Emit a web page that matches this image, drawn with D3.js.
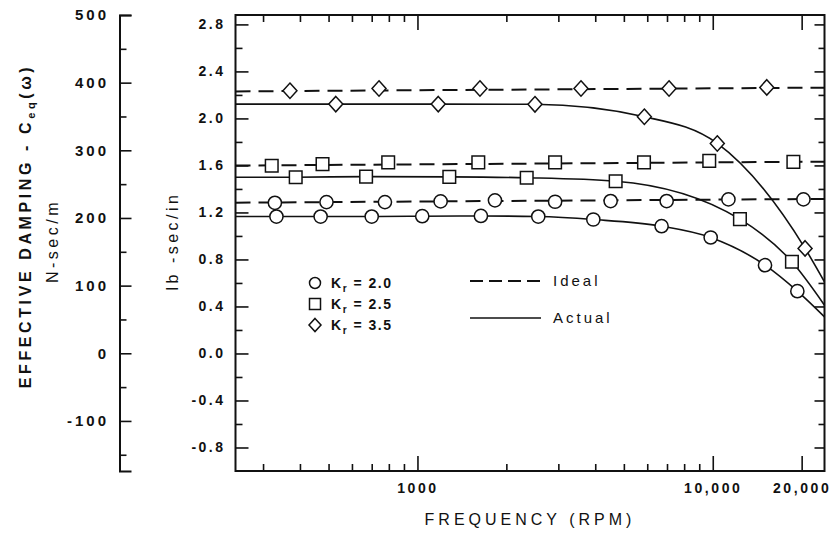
<!DOCTYPE html>
<meta charset="utf-8">
<style>
body { margin: 0; background: #fff; }
text { font-family: "Liberation Sans", Arial, sans-serif; fill: #111; }
.line { fill: none; stroke: #111; stroke-width: 1.6px; }
.ideal { stroke-dasharray: 15,8; stroke-width: 2px; }
.mark { fill: #fff; stroke: #111; stroke-width: 1.5px; }
</style>
<body>
<script src="https://d3js.org/d3.v7.min.js"></script>
<script>

// tick values and labels
var majorFreq = [1000, 10000, 20000];
var freqTickLabels = ["1000", "10,000", "20,000"];
var minorFreq = [300, 400, 500, 600, 700, 800, 900, 2000, 3000, 4000, 5000, 6000, 7000, 8000, 9000];
var lbTicks = [-0.8, -0.4, 0, 0.4, 0.8, 1.2, 1.6, 2.0, 2.4, 2.8];
var lbTickLabels = ["-0.8", "-0.4", "0.0", "0.4", "0.8", "1.2", "1.6", "2.0", "2.4", "2.8"];
var lbMinor = [-0.6, -0.2, 0.2, 0.6, 1.0, 1.4, 1.8, 2.2, 2.6];
var nTicks = [-100, 0, 100, 200, 300, 400, 500];
var nTickLabels = ["-100", "0", "100", "200", "300", "400", "500"];
var nMinor = [-150, -50, 50, 150, 250, 350, 450];

// frequency at left / right edge of the frame (line ends)
var edgeFreq = [242, 23900];

// Kr = 2.0 (circles), lb-sec/in
var circIdealFreq = [329, 492, 776, 1198, 1830, 2925, 4510, 6980, 11300, 20280];
var circIdealVal  = [1.282, 1.288, 1.288, 1.294, 1.303, 1.291, 1.297, 1.297, 1.311, 1.311];
var circIdealEnds = [1.283, 1.315];
var circActFreq = [333, 470, 700, 1038, 1640, 2565, 3940, 6710, 9840, 15030, 19340];
var circActVal  = [1.165, 1.165, 1.165, 1.168, 1.170, 1.165, 1.140, 1.083, 0.987, 0.751, 0.530];
var circActEnds = [1.165, 0.311];

// Kr = 2.5 (squares)
var sqIdealFreq = [321, 477, 796, 1607, 2925, 5850, 9730, 18750];
var sqIdealVal  = [1.597, 1.611, 1.626, 1.626, 1.626, 1.626, 1.639, 1.630];
var sqIdealEnds = [1.599, 1.632];
var sqActFreq = [387, 670, 1282, 2344, 4690, 12360, 18540];
var sqActVal  = [1.500, 1.505, 1.503, 1.495, 1.466, 1.143, 0.780];
var sqActEnds = [1.500, 0.411];

// Kr = 3.5 (diamonds)
var diaIdealFreq = [370, 741, 1628, 3579, 7112, 15240];
var diaIdealVal  = [2.235, 2.255, 2.255, 2.255, 2.255, 2.264];
var diaIdealEnds = [2.230, 2.262];
var diaActFreq = [529, 1176, 2500, 5866, 10360, 20540];
var diaActVal  = [2.122, 2.122, 2.120, 2.014, 1.787, 0.894];
var diaActEnds = [2.122, 0.609];

var krLabels = ["2.0", "2.5", "3.5"];

// marker shapes (size = half extent)
var symCircle = { draw: function(c, s) { c.moveTo(s, 0); c.arc(0, 0, s, 0, 2 * Math.PI); } };
var symSquare = { draw: function(c, s) { c.rect(-s, -s, 2 * s, 2 * s); } };
var symDiamond = { draw: function(c, s) {
  c.moveTo(0, -s * 1.1); c.lineTo(s, 0); c.lineTo(0, s * 1.1); c.lineTo(-s, 0); c.closePath(); } };

var series = [
  {sym: symCircle, size: 6.6, legSize: 5.5, iF: circIdealFreq, iV: circIdealVal, iE: circIdealEnds, aF: circActFreq, aV: circActVal, aE: circActEnds},
  {sym: symSquare, size: 6.3, legSize: 5.5, iF: sqIdealFreq, iV: sqIdealVal, iE: sqIdealEnds, aF: sqActFreq, aV: sqActVal, aE: sqActEnds},
  {sym: symDiamond, size: 7, legSize: 6, iF: diaIdealFreq, iV: diaIdealVal, iE: diaIdealEnds, aF: diaActFreq, aV: diaActVal, aE: diaActEnds}
];

var plot = {left: 235.5, right: 824.5, top: 15, bottom: 471};

var svg = d3.select("body").append("svg")
    .attr("width", 839)
    .attr("height", 535);

var x = d3.scaleLog().domain(edgeFreq).range([plot.left, plot.right]);
var y = d3.scaleLinear().domain([-1.0, 2.88]).range([plot.bottom, plot.top]);
var yN = d3.scaleLinear().domain([-174, 500]).range([plot.bottom, plot.top]);

function tidy(g, keepDomain) {
  if (!keepDomain) g.select(".domain").remove();
  else g.select(".domain").attr("stroke", "#111").attr("stroke-width", 2);
  g.selectAll(".tick line").attr("stroke", "#111").attr("stroke-width", 1.6);
}
function labelStyle(g, size, spacing) {
  g.selectAll("text")
    .style("font-size", size + "px")
    .style("font-weight", "bold")
    .style("letter-spacing", spacing + "px");
}

// bottom axis
svg.append("g").attr("transform", "translate(0," + plot.bottom + ")")
    .call(d3.axisBottom(x).tickValues(minorFreq).tickSize(-7).tickFormat(""))
    .call(tidy);
svg.append("g").attr("transform", "translate(0," + plot.bottom + ")")
    .call(d3.axisBottom(x).tickValues(majorFreq).tickSize(-15).tickPadding(12)
      .tickFormat(function(d, i) { return freqTickLabels[i]; }))
    .call(tidy)
    .call(labelStyle, 14, 2.6);

// top axis
svg.append("g").attr("transform", "translate(0," + plot.top + ")")
    .call(d3.axisTop(x).tickValues(minorFreq).tickSize(-7).tickFormat(""))
    .call(tidy);
svg.append("g").attr("transform", "translate(0," + plot.top + ")")
    .call(d3.axisTop(x).tickValues(majorFreq).tickSize(-15).tickFormat(""))
    .call(tidy);

// lb-sec/in axis on the frame
svg.append("g").attr("transform", "translate(" + plot.left + ",0)")
    .call(d3.axisLeft(y).tickValues(lbMinor).tickSize(-7).tickFormat(""))
    .call(tidy);
svg.append("g").attr("transform", "translate(" + plot.left + ",0)")
    .call(d3.axisLeft(y).tickValues(lbTicks).tickSize(-13).tickPadding(10)
      .tickFormat(function(d, i) { return lbTickLabels[i]; }))
    .call(tidy)
    .call(labelStyle, 14, 2.5);

// right side of frame
svg.append("g").attr("transform", "translate(" + plot.right + ",0)")
    .call(d3.axisRight(y).tickValues(lbMinor).tickSize(-6).tickFormat(""))
    .call(tidy);
svg.append("g").attr("transform", "translate(" + plot.right + ",0)")
    .call(d3.axisRight(y).tickValues(lbTicks).tickSize(-10).tickFormat(""))
    .call(tidy);

// N-sec/m axis
svg.append("g").attr("transform", "translate(119.5,0)")
    .call(d3.axisLeft(yN).tickValues(nMinor).tickSize(-7).tickFormat(""))
    .call(tidy);
svg.append("g").attr("transform", "translate(119.5,0)")
    .call(d3.axisLeft(yN).tickValues(nTicks).tickSize(-12).tickSizeOuter(-12).tickPadding(10.5)
      .tickFormat(function(d, i) { return nTickLabels[i]; }))
    .call(tidy, true)
    .call(labelStyle, 15, 3);

// frame
svg.append("rect")
    .attr("x", plot.left).attr("y", plot.top)
    .attr("width", plot.right - plot.left).attr("height", plot.bottom - plot.top)
    .attr("fill", "none").attr("stroke", "#111").attr("stroke-width", 2);

// lines
var line = d3.line()
    .x(function(d) { return x(d[0]); })
    .y(function(d) { return y(d[1]); })
    .curve(d3.curveMonotoneX);

series.forEach(function(s) {
  var ideal = [[edgeFreq[0], s.iE[0]], [edgeFreq[1], s.iE[1]]];
  svg.append("path").datum(ideal).attr("class", "line ideal").attr("d", line);
  var act = [[edgeFreq[0], s.aE[0]]]
    .concat(s.aF.map(function(f, i) { return [f, s.aV[i]]; }))
    .concat([[edgeFreq[1], s.aE[1]]]);
  svg.append("path").datum(act).attr("class", "line").attr("d", line);
});

// markers
series.forEach(function(s) {
  var sym = d3.symbol().type(s.sym).size(s.size);
  var pts = s.iF.map(function(f, i) { return [f, s.iV[i]]; })
    .concat(s.aF.map(function(f, i) { return [f, s.aV[i]]; }));
  svg.selectAll(null).data(pts).enter().append("path")
      .attr("class", "mark")
      .attr("d", sym)
      .attr("transform", function(d) { return "translate(" + x(d[0]) + "," + y(d[1]) + ")"; });
});

// legend: symbols
var legY = d3.scaleLinear().domain([0, 2]).range([283, 325]);
series.forEach(function(s, i) {
  svg.append("path").attr("class", "mark")
      .attr("d", d3.symbol().type(s.sym).size(s.legSize))
      .attr("transform", "translate(315," + legY(i) + ")");
  var t = svg.append("text").attr("x", 331).attr("y", legY(i)).attr("dy", "0.36em")
      .style("font-size", "14px").style("font-weight", "bold").style("letter-spacing", "1.5px");
  t.append("tspan").text("K");
  t.append("tspan").attr("dy", 4).style("font-size", "10px").text("r");
  t.append("tspan").attr("dy", -4).text(" = " + krLabels[i]);
});

// legend: line styles
svg.append("line").attr("class", "line").attr("x1", 470).attr("x2", 541).attr("y1", 281).attr("y2", 281)
    .style("stroke-dasharray", "13,6").style("stroke-width", "2px");
svg.append("line").attr("class", "line").attr("x1", 470).attr("x2", 541).attr("y1", 318).attr("y2", 318);
svg.append("text").attr("x", 553).attr("y", 281).attr("dy", "0.36em")
    .style("font-size", "15px").style("letter-spacing", "3px").text("Ideal");
svg.append("text").attr("x", 553).attr("y", 318).attr("dy", "0.36em")
    .style("font-size", "15px").style("letter-spacing", "3px").text("Actual");

// axis titles
svg.append("text").attr("x", 530).attr("y", 519).attr("dy", "0.36em")
    .attr("text-anchor", "middle")
    .style("font-size", "16px").style("letter-spacing", "4px").text("FREQUENCY (RPM)");

var yt = svg.append("text").attr("transform", "translate(25,226) rotate(-90)")
    .attr("text-anchor", "middle").attr("dy", "0.36em")
    .style("font-size", "16px").style("font-weight", "bold").style("letter-spacing", "3.6px");
yt.append("tspan").text("EFFECTIVE DAMPING - C");
yt.append("tspan").attr("dy", 4).style("font-size", "11px").text("eq");
yt.append("tspan").attr("dy", -4).text("(\u03c9)");

svg.append("text").attr("transform", "translate(52,241) rotate(-90)")
    .attr("text-anchor", "middle").attr("dy", "0.36em")
    .style("font-size", "16px").style("letter-spacing", "3.5px").text("N-sec/m");

svg.append("text").attr("transform", "translate(172,241) rotate(-90)")
    .attr("text-anchor", "middle").attr("dy", "0.36em")
    .style("font-size", "16px").style("letter-spacing", "3.5px").text("lb -sec/in");

</script>
</body>
